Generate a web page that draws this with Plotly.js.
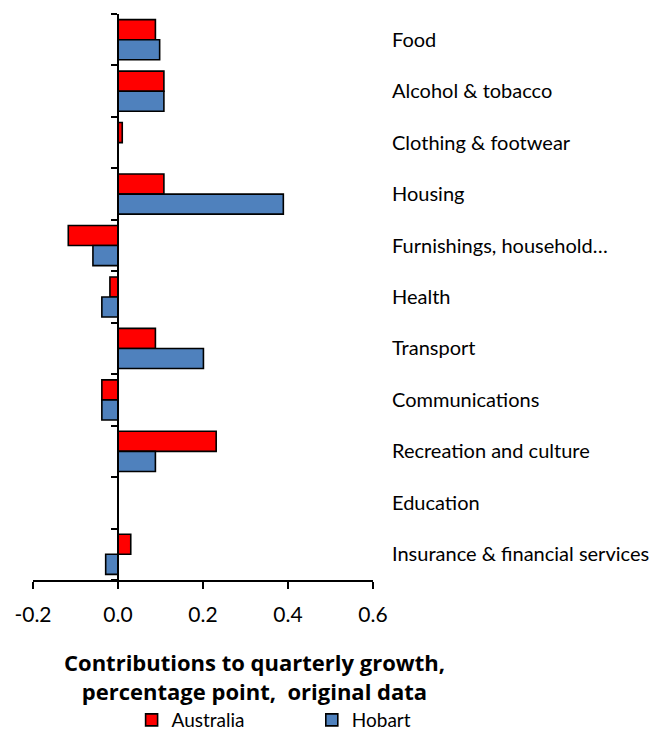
<!DOCTYPE html>
<html>
<head>
<meta charset="utf-8">
<script src="https://cdn.plot.ly/plotly-3.0.1.min.js"></script>
<style>html,body{margin:0;padding:0;background:#fff;}#chart{width:656px;height:739px;}</style>
</head>
<body>
<div id="chart"></div>
<script>
const categories = ["Food", "Alcohol & tobacco", "Clothing & footwear", "Housing", "Furnishings, household…", "Health", "Transport", "Communications", "Recreation and culture", "Education", "Insurance & financial services"];
const australia = [0.088, 0.108, 0.010, 0.108, -0.117, -0.019, 0.088, -0.038, 0.231, 0.0, 0.030];
const hobart = [0.098, 0.108, 0.0, 0.389, -0.059, -0.038, 0.201, -0.038, 0.088, 0.0, -0.029];
const xTickVals = [-0.2, 0.0, 0.2, 0.4, 0.6];
const xTickText = ["-0.2", "0.0", "0.2", "0.4", "0.6"];
const seriesNames = ["Australia", "Hobart"];
const seriesColors = ["#FF0000", "#4F81BD"];
const legendIds = ["legend", "legend2"];

const font = "Lato, 'Open Sans', sans-serif";
const n = categories.length;
const boundaries = [];
for (let i = 0; i <= n; i++) boundaries.push(i - 0.5);

const traces = [australia, hobart].map((vals, k) => ({
  type: "bar",
  orientation: "h",
  name: seriesNames[k],
  legend: legendIds[k],
  y: categories,
  x: vals,
  marker: {color: seriesColors[k], line: {color: "#000", width: 1.6}},
  hoverinfo: "x+y+name"
}));
// empty helper trace so the category-boundary axis at zero is drawn
traces.push({type: "scatter", mode: "markers", x: [null], y: [null], yaxis: "y2",
             showlegend: false, hoverinfo: "skip"});

const xmin = -0.2, xmax = 0.6;
const legendBase = {orientation: "h", xanchor: "left", yanchor: "bottom",
                    xref: "paper", yref: "container", y: -0.008,
                    font: {size: 19}, itemwidth: 30, bgcolor: "rgba(0,0,0,0)"};
const layout = {
  width: 656, height: 739,
  margin: {l: 33, r: 283, t: 14, b: 159},
  paper_bgcolor: "#fff", plot_bgcolor: "#fff",
  font: {family: font, color: "#000", size: 20},
  barmode: "group", bargap: 0.22, bargroupgap: 0,
  showlegend: true,
  legend: Object.assign({}, legendBase, {x: 0.29}),
  legend2: Object.assign({}, legendBase, {x: 0.82}),
  xaxis: {range: [xmin, xmax], tickvals: xTickVals, ticktext: xTickText,
          showgrid: false, zeroline: false, showline: true, linecolor: "#000", linewidth: 2,
          ticks: "outside", ticklen: 7, tickwidth: 2, tickcolor: "#000", ticklabelstandoff: 8,
          tickfont: {size: 21}, fixedrange: true, automargin: false},
  yaxis: {type: "category", categoryorder: "array", categoryarray: categories,
          range: [n - 0.5, -0.5], side: "right", showgrid: false, zeroline: false,
          showline: false, ticks: "", ticklabelstandoff: 18, tickfont: {size: 20}, automargin: false},
  yaxis2: {overlaying: "y", anchor: "free", position: (0 - xmin) / (xmax - xmin), side: "left",
           range: [n - 0.5, -0.5], tickvals: boundaries, showticklabels: false,
           showgrid: false, zeroline: false, showline: true, linecolor: "#000", linewidth: 2,
           ticks: "outside", ticklen: 6, tickwidth: 2, tickcolor: "#000", automargin: false},
  annotations: [{
    xref: "paper", yref: "paper", x: (254 - 33) / 340, y: -0.171, xanchor: "center", yanchor: "middle",
    text: "<b>Contributions to quarterly growth,<br>percentage point,  original data</b>",
    showarrow: false, font: {size: 22, family: "'Open Sans', Lato, sans-serif"}
  }]
};

Plotly.newPlot("chart", traces, layout, {displayModeBar: false, staticPlot: true});
</script>
</body>
</html>
